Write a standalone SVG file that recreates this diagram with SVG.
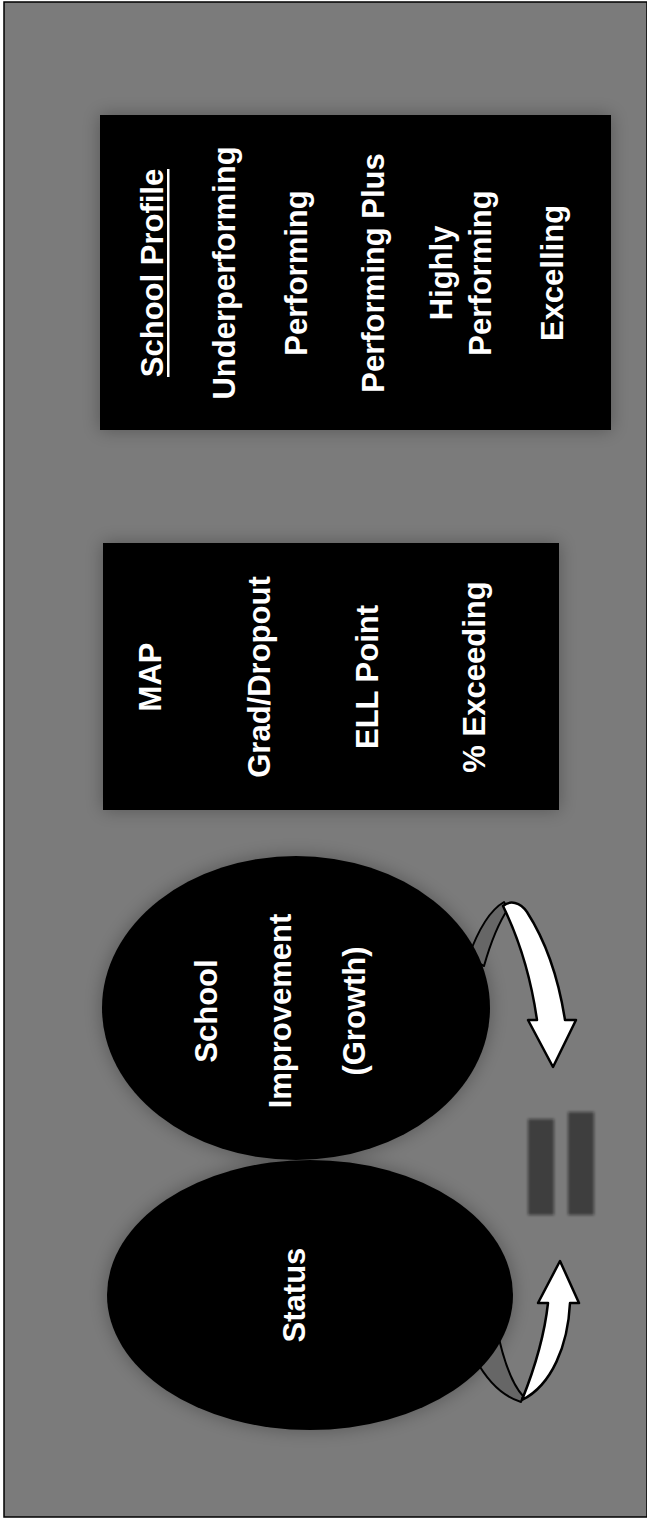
<svg xmlns="http://www.w3.org/2000/svg" width="647" height="1520" viewBox="0 0 647 1520">
  <defs>
    <!-- soft dark halo round the black shapes -->
    <filter id="halo" x="-20%" y="-20%" width="140%" height="140%">
      <feGaussianBlur stdDeviation="9"/>
    </filter>
    <!-- slightly softened edges for the faint mark -->
    <filter id="soft" x="-30%" y="-30%" width="160%" height="160%">
      <feGaussianBlur stdDeviation="1.5"/>
    </filter>
  </defs>
  <style>
    .panel { fill: #000; }
    .lbl { font-family: "Liberation Sans", Arial, sans-serif; font-weight: bold; font-size: 31px; fill: #fff; text-anchor: middle; }
    .arrow { fill: #fff; stroke: #000; stroke-width: 2.5; stroke-linejoin: round; }
    .back { fill: #666; stroke: #000; stroke-width: 2; stroke-linejoin: round; }
  </style>

  <!-- white page with the grey slide -->
  <rect x="0" y="0" width="647" height="1520" fill="#fff"/>
  <rect id="slide" x="4" y="2" width="643" height="1515" fill="#7b7b7b" stroke="#000" stroke-width="1.5"/>

  <!-- halos -->
  <g fill="#000" opacity="0.3" filter="url(#halo)">
    <rect x="100" y="115" width="511" height="315"/>
    <rect x="103" y="543" width="456" height="267"/>
    <ellipse cx="296" cy="1008" rx="194" ry="152"/>
    <ellipse cx="310" cy="1295" rx="203" ry="135"/>
  </g>

  <!-- back halves of the circular arrows (partly hidden behind the ellipses) -->
  <g id="connectors-back">
    <path class="back" d="M504,902 C490,910 478,930 468,958 L484,966 C490,945 497,925 508,909 Z"/>
    <path class="back" d="M521,1402 C502,1396 488,1382 476,1360 L496,1325 C502,1355 510,1382 523,1396 Z"/>
  </g>

  <!-- School Profile panel -->
  <g id="school-profile">
    <rect class="panel" x="100" y="115" width="511" height="315"/>
    <g transform="translate(163,273) rotate(-90)">
      <text class="lbl" x="0" y="0">School Profile</text>
      <rect x="-104" y="4" width="208" height="2.5" fill="#fff"/>
    </g>
    <text class="lbl" transform="translate(235,273) rotate(-90)">Underperforming</text>
    <text class="lbl" transform="translate(307,273) rotate(-90)">Performing</text>
    <text class="lbl" transform="translate(384,273) rotate(-90)">Performing Plus</text>
    <text class="lbl" transform="translate(452,273) rotate(-90)">Highly</text>
    <text class="lbl" transform="translate(491,273) rotate(-90)">Performing</text>
    <text class="lbl" transform="translate(563,273) rotate(-90)">Excelling</text>
  </g>

  <!-- measures panel -->
  <g id="measures">
    <rect class="panel" x="103" y="543" width="456" height="267"/>
    <text class="lbl" transform="translate(161,677) rotate(-90)">MAP</text>
    <text class="lbl" transform="translate(270,677) rotate(-90)">Grad/Dropout</text>
    <text class="lbl" transform="translate(378,677) rotate(-90)">ELL Point</text>
    <text class="lbl" transform="translate(485,677) rotate(-90)">% Exceeding</text>
  </g>

  <!-- School Improvement ellipse -->
  <g id="school-improvement">
    <ellipse cx="296" cy="1008" rx="194" ry="152" fill="#000"/>
    <text class="lbl" transform="translate(217,1011) rotate(-90)">School</text>
    <text class="lbl" transform="translate(291,1011) rotate(-90)">Improvement</text>
    <text class="lbl" transform="translate(365,1011) rotate(-90)">(Growth)</text>
  </g>

  <!-- Status ellipse -->
  <g id="status">
    <ellipse cx="310" cy="1295" rx="203" ry="135" fill="#000"/>
    <text class="lbl" transform="translate(305,1295) rotate(-90)">Status</text>
  </g>

  <!-- front halves of the circular arrows -->
  <g id="connectors">
    <path class="arrow" d="M503,906 C510,900 520,902 527,912 C545,940 558,975 565,1020 L576,1020 L553,1067 L528,1020 L537,1020 C532,985 522,945 503,906 Z"/>
    <path class="arrow" d="M560,1261 L579,1303 L570,1303 C568,1345 552,1385 522,1400 C530,1380 544,1340 548,1303 L538,1303 Z"/>
  </g>

  <!-- small faint dark mark between the arrows -->
  <g id="mark" fill="#111" opacity="0.55" filter="url(#soft)">
    <rect x="528" y="1119" width="26" height="96"/>
    <rect x="568" y="1112" width="26" height="103"/>
  </g>
</svg>
